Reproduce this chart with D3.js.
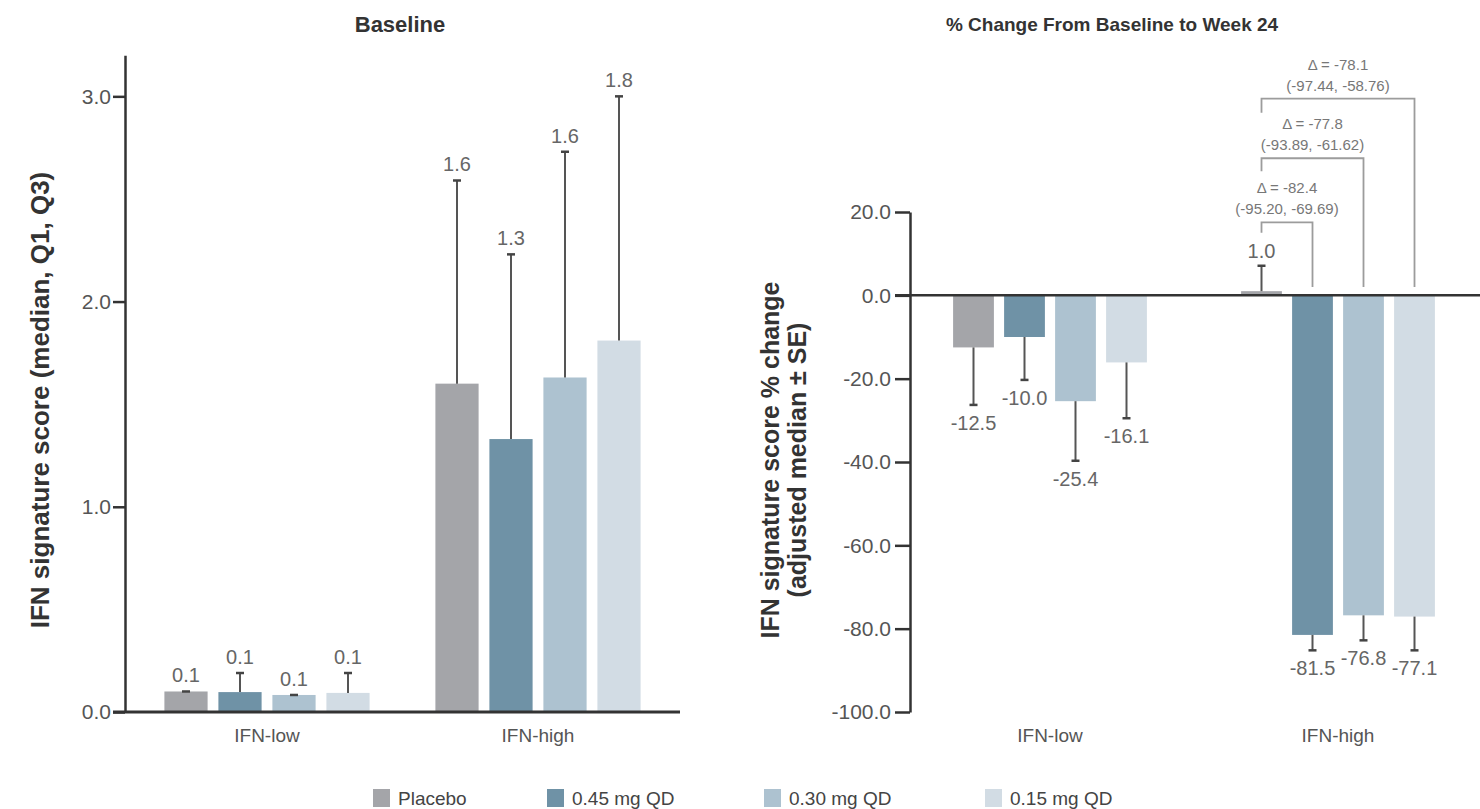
<!DOCTYPE html>
<html>
<head>
<meta charset="utf-8">
<script src="https://cdn.jsdelivr.net/npm/d3@7"></script>
<style>
  body { margin: 0; background: #fff; }
  svg { font-family: "Liberation Sans", Arial, sans-serif; }
</style>
</head>
<body>
<svg width="1480" height="809"></svg>
<script>
// ---- data ----
var groups = ['IFN-low', 'IFN-high'];
var series = ['Placebo', '0.45 mg QD', '0.30 mg QD', '0.15 mg QD'];
var colors = ['#a4a5a9', '#6f92a6', '#adc2d0', '#d2dce4'];

// baseline: median and Q3
var baseMedian = [[0.10, 0.097, 0.083, 0.093], [1.60, 1.33, 1.63, 1.81]];
var baseQ3     = [[0.10, 0.19, 0.083, 0.19], [2.59, 2.23, 2.73, 3.00]];
var baseLabels = [['0.1', '0.1', '0.1', '0.1'], ['1.6', '1.3', '1.6', '1.8']];
var baseTicks  = [0, 1, 2, 3];

// % change: adjusted median and median ± SE end
var chgMedian = [[-12.5, -10.0, -25.4, -16.1], [1.0, -81.5, -76.8, -77.1]];
var chgSE     = [[-26.3, -20.3, -39.7, -29.5], [7.1, -85.2, -82.8, -85.2]];
var chgTicks  = [20, 0, -20, -40, -60, -80, -100];

// treatment vs placebo in IFN-high
var deltaTarget = [1, 2, 3];
var deltaText   = ['Δ = -82.4', 'Δ = -77.8', 'Δ = -78.1'];
var deltaCI     = ['(-95.20, -69.69)', '(-93.89, -61.62)', '(-97.44, -58.76)'];
var bracketTop  = [17.5, 32.9, 47.2];
var bracketLeft = [15.0, 29.8, 43.8];

var svg = d3.select('svg');
// plain hyphen for negatives, like the original
var fmt = d3.formatLocale({decimal: '.', thousands: ',', grouping: [3], currency: ['', ''], minus: '-'}).format('.1f');

function flat(med, ext, labs) {
    var out = [];
    groups.forEach((g, gi) => series.forEach((s, si) => {
        out.push({g: g, s: s, si: si, v: med[gi][si], e: ext[gi][si], lab: labs ? labs[gi][si] : fmt(med[gi][si])});
    }));
    return out;
}

// ================= LEFT: Baseline =================
var yL = d3.scaleLinear().domain([0, 3.2]).range([712, 55.3]);
var gxL = d3.scalePoint().domain(groups).range([267, 538]);
var sxL = d3.scaleBand().domain(series).range([-108, 108]).paddingInner(0.2).paddingOuter(0.1);

var left = svg.append('g');

left.append('text')
    .attr('x', 400).attr('y', 32)
    .attr('text-anchor', 'middle')
    .attr('font-size', 22).attr('font-weight', 'bold').attr('fill', '#333')
    .text('Baseline');

var dataL = flat(baseMedian, baseQ3, baseLabels);
var cxL = d => gxL(d.g) + sxL(d.s) + sxL.bandwidth() / 2;

left.selectAll('rect.bar').data(dataL).enter().append('rect')
    .attr('class', 'bar')
    .attr('x', d => gxL(d.g) + sxL(d.s))
    .attr('width', sxL.bandwidth())
    .attr('y', d => yL(d.v))
    .attr('height', d => yL(0) - yL(d.v))
    .attr('fill', d => colors[d.si]);

// error bars up to Q3
left.selectAll('line.err').data(dataL).enter().append('line')
    .attr('x1', cxL).attr('x2', cxL)
    .attr('y1', d => yL(d.v))
    .attr('y2', d => yL(d.e))
    .attr('stroke', '#555').attr('stroke-width', 2);
left.selectAll('line.cap').data(dataL).enter().append('line')
    .attr('x1', d => cxL(d) - 4).attr('x2', d => cxL(d) + 4)
    .attr('y1', d => yL(d.e)).attr('y2', d => yL(d.e))
    .attr('stroke', '#444').attr('stroke-width', 2.5);
left.selectAll('text.val').data(dataL).enter().append('text')
    .attr('x', cxL)
    .attr('y', d => yL(d.e) - 9)
    .attr('text-anchor', 'middle')
    .attr('font-size', 20).attr('fill', '#666')
    .text(d => d.lab);

// y axis
var axL = left.append('g')
    .attr('transform', 'translate(125,0)')
    .call(d3.axisLeft(yL).tickValues(baseTicks).tickFormat(fmt).tickSize(12).tickSizeOuter(0));
axL.select('.domain').attr('stroke', '#333').attr('stroke-width', 2.5);
axL.selectAll('.tick line').attr('stroke', '#333').attr('stroke-width', 2.5);
axL.selectAll('.tick text').attr('font-size', 21).attr('fill', '#555').attr('x', -14)
    .attr('font-family', '"Liberation Sans", Arial, sans-serif');

// x baseline
left.append('line')
    .attr('x1', 113).attr('x2', 680)
    .attr('y1', yL(0)).attr('y2', yL(0))
    .attr('stroke', '#333').attr('stroke-width', 3);

left.selectAll('text.grp').data(groups).enter().append('text')
    .attr('x', d => gxL(d)).attr('y', 742)
    .attr('text-anchor', 'middle')
    .attr('font-size', 19).attr('fill', '#555')
    .text(d => d);

left.append('text')
    .attr('transform', 'translate(49,400) rotate(-90)')
    .attr('text-anchor', 'middle')
    .attr('font-size', 26).attr('font-weight', 'bold').attr('fill', '#333')
    .text('IFN signature score (median, Q1, Q3)');

// ================= RIGHT: % change =================
var yR = d3.scaleLinear().domain([-100, 20]).range([712, 212]);
var gxR = d3.scalePoint().domain(groups).range([1050, 1338]);
var sxR = d3.scaleBand().domain(series).range([-102, 102]).paddingInner(0.2).paddingOuter(0.1);

var right = svg.append('g');

right.append('text')
    .attr('x', 1112).attr('y', 31)
    .attr('text-anchor', 'middle')
    .attr('font-size', 19).attr('font-weight', 'bold').attr('fill', '#333')
    .text('% Change From Baseline to Week 24');

var dataR = flat(chgMedian, chgSE, null);
var cx = d => gxR(d.g) + sxR(d.s) + sxR.bandwidth() / 2;

right.selectAll('rect.bar').data(dataR).enter().append('rect')
    .attr('x', d => gxR(d.g) + sxR(d.s))
    .attr('width', sxR.bandwidth())
    .attr('y', d => yR(Math.max(0, d.v)))
    .attr('height', d => Math.abs(yR(d.v) - yR(0)))
    .attr('fill', d => colors[d.si]);

right.selectAll('line.err').data(dataR).enter().append('line')
    .attr('x1', cx).attr('x2', cx)
    .attr('y1', d => yR(d.v))
    .attr('y2', d => yR(d.e))
    .attr('stroke', '#555').attr('stroke-width', 2);
right.selectAll('line.cap').data(dataR).enter().append('line')
    .attr('x1', d => cx(d) - 4).attr('x2', d => cx(d) + 4)
    .attr('y1', d => yR(d.e)).attr('y2', d => yR(d.e))
    .attr('stroke', '#444').attr('stroke-width', 2.5);
right.selectAll('text.val').data(dataR).enter().append('text')
    .attr('x', cx)
    .attr('y', d => d.v >= 0 ? yR(d.e) - 8 : yR(d.e) + 25)
    .attr('text-anchor', 'middle')
    .attr('font-size', 20).attr('fill', '#666')
    .text(d => fmt(d.v));

var axR = right.append('g')
    .attr('transform', 'translate(910,0)')
    .call(d3.axisLeft(yR).tickValues(chgTicks).tickFormat(fmt).tickSize(15).tickSizeOuter(0));
axR.select('.domain').attr('stroke', '#333').attr('stroke-width', 2.5);
axR.selectAll('.tick line').attr('stroke', '#333').attr('stroke-width', 2.5);
axR.selectAll('.tick text').attr('font-size', 21).attr('fill', '#555').attr('x', -19)
    .attr('font-family', '"Liberation Sans", Arial, sans-serif');

// zero line
right.append('line')
    .attr('x1', 895).attr('x2', 1480)
    .attr('y1', yR(0)).attr('y2', yR(0))
    .attr('stroke', '#333').attr('stroke-width', 2.5);

right.selectAll('text.grp').data(groups).enter().append('text')
    .attr('x', d => gxR(d)).attr('y', 742)
    .attr('text-anchor', 'middle')
    .attr('font-size', 19).attr('fill', '#555')
    .text(d => d);

var yTitle = right.append('text')
    .attr('transform', 'rotate(-90)')
    .attr('text-anchor', 'middle')
    .attr('font-size', 25).attr('font-weight', 'bold').attr('fill', '#333');
yTitle.append('tspan').attr('x', -460).attr('y', 779).text('IFN signature score % change');
yTitle.append('tspan').attr('x', -460).attr('y', 806).text('(adjusted median ± SE)');

// brackets placebo vs treatment (IFN-high)
var xPlacebo = gxR('IFN-high') + sxR(series[0]) + sxR.bandwidth() / 2;
deltaTarget.forEach((t, i) => {
    var xt = gxR('IFN-high') + sxR(series[t]) + sxR.bandwidth() / 2;
    var top = yR(bracketTop[i]);
    right.append('path')
        .attr('d', `M${xPlacebo},${yR(bracketLeft[i])}V${top}H${xt}V${yR(2)}`)
        .attr('fill', 'none').attr('stroke', '#9c9c9c').attr('stroke-width', 1.8);
    var mid = (xPlacebo + xt) / 2;
    right.append('text')
        .attr('x', mid).attr('y', top - 29)
        .attr('text-anchor', 'middle').attr('font-size', 15).attr('fill', '#777')
        .text(deltaText[i]);
    right.append('text')
        .attr('x', mid).attr('y', top - 8)
        .attr('text-anchor', 'middle').attr('font-size', 15).attr('fill', '#777')
        .text(deltaCI[i]);
});

// ================= legend =================
var legX = [373, 547, 764, 985];
var leg = svg.append('g').selectAll('g').data(series).enter().append('g')
    .attr('transform', (d, i) => `translate(${legX[i]},789)`);
leg.append('rect').attr('width', 17).attr('height', 18).attr('fill', (d, i) => colors[i]);
leg.append('text').attr('x', 25).attr('y', 16)
    .attr('font-size', 19).attr('fill', '#444')
    .text(d => d);
</script>
</body>
</html>
